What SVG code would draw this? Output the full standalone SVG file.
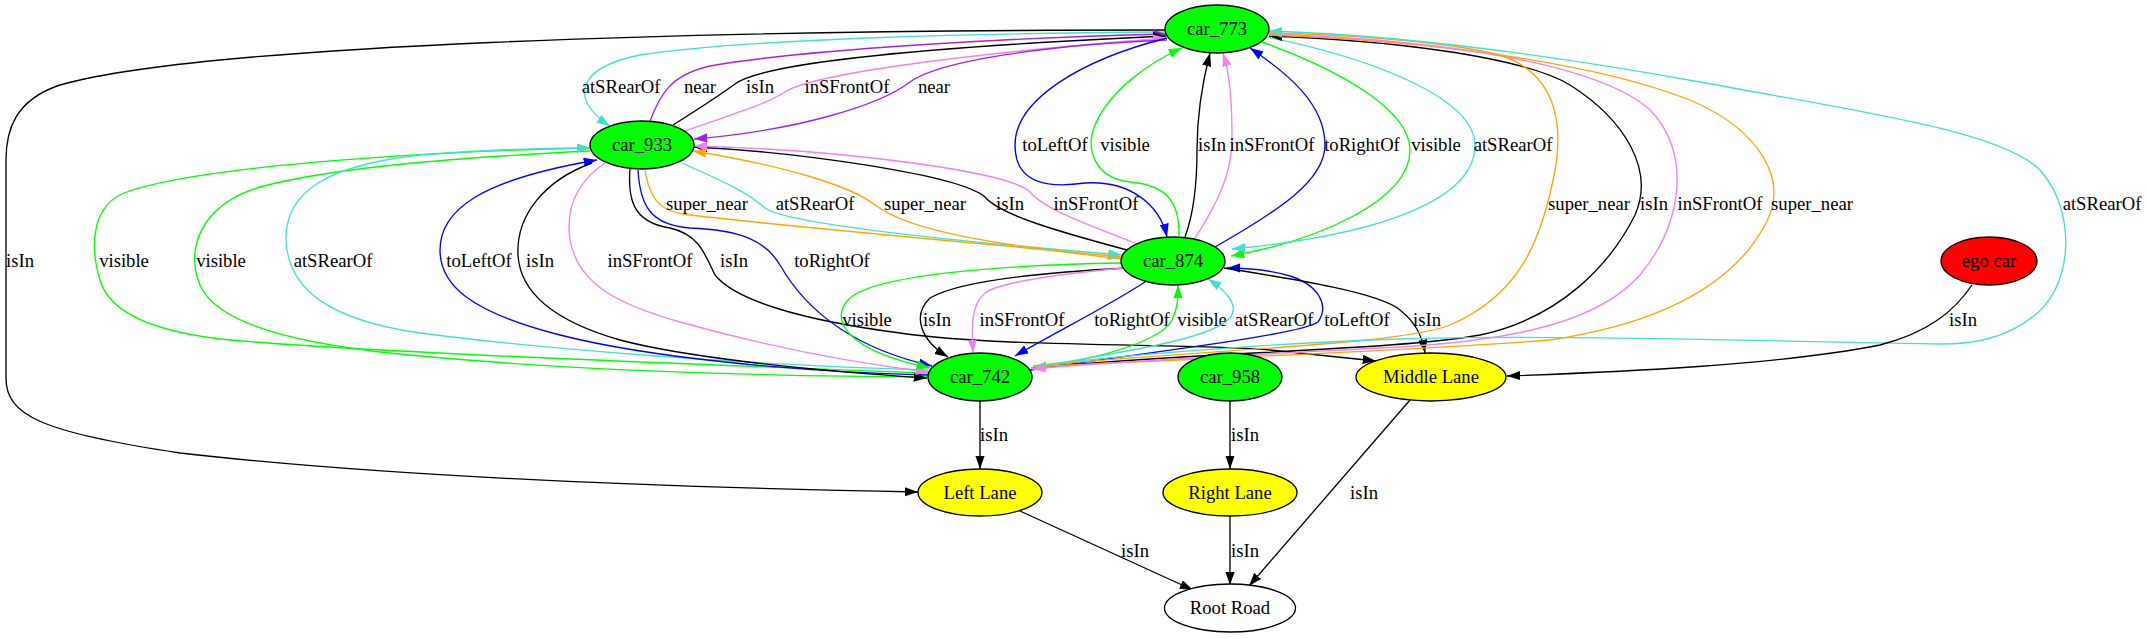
<svg xmlns="http://www.w3.org/2000/svg" width="2147" height="639" viewBox="0 0 2147 639">
<style>
.e{fill:none;stroke-width:1.33}
.k{stroke:#000;marker-end:url(#ak)}
.p{stroke:#a020f0;marker-end:url(#ap)}
.v{stroke:#ee82ee;marker-end:url(#av)}
.o{stroke:#ffa500;marker-end:url(#ao)}
.t{stroke:#40e0d0;marker-end:url(#at)}
.g{stroke:#00ff00;marker-end:url(#ag)}
.b{stroke:#0000ff;marker-end:url(#ab)}
.l{font-family:"Liberation Serif","Times New Roman",serif;font-size:18.67px;text-anchor:middle;fill:#000}
.n{stroke:#000;stroke-width:1.33}
</style>
<defs>
<marker id="ak" viewBox="0 0 14 10" refX="13.3" refY="4.65" markerWidth="14" markerHeight="10" markerUnits="userSpaceOnUse" orient="auto"><path d="M0,0 L13.3,4.65 L0,9.3 z" fill="#000"/></marker>
<marker id="ap" viewBox="0 0 14 10" refX="13.3" refY="4.65" markerWidth="14" markerHeight="10" markerUnits="userSpaceOnUse" orient="auto"><path d="M0,0 L13.3,4.65 L0,9.3 z" fill="#a020f0"/></marker>
<marker id="av" viewBox="0 0 14 10" refX="13.3" refY="4.65" markerWidth="14" markerHeight="10" markerUnits="userSpaceOnUse" orient="auto"><path d="M0,0 L13.3,4.65 L0,9.3 z" fill="#ee82ee"/></marker>
<marker id="ao" viewBox="0 0 14 10" refX="13.3" refY="4.65" markerWidth="14" markerHeight="10" markerUnits="userSpaceOnUse" orient="auto"><path d="M0,0 L13.3,4.65 L0,9.3 z" fill="#ffa500"/></marker>
<marker id="at" viewBox="0 0 14 10" refX="13.3" refY="4.65" markerWidth="14" markerHeight="10" markerUnits="userSpaceOnUse" orient="auto"><path d="M0,0 L13.3,4.65 L0,9.3 z" fill="#40e0d0"/></marker>
<marker id="ag" viewBox="0 0 14 10" refX="13.3" refY="4.65" markerWidth="14" markerHeight="10" markerUnits="userSpaceOnUse" orient="auto"><path d="M0,0 L13.3,4.65 L0,9.3 z" fill="#00ff00"/></marker>
<marker id="ab" viewBox="0 0 14 10" refX="13.3" refY="4.65" markerWidth="14" markerHeight="10" markerUnits="userSpaceOnUse" orient="auto"><path d="M0,0 L13.3,4.65 L0,9.3 z" fill="#0000ff"/></marker>
</defs>
<rect width="2147" height="639" fill="#fff"/>
<g id="connectors">
<!-- car_773 -> Left Lane -->
<path class="e k" d="M1165,30 C700,30 200,45 60,85 C15,100 6,130 6,160 L6,378 C6,415 40,432 180,453 C400,478 700,488 918,492"/>
<text class="l" x="20" y="266.5">isIn</text>
<!-- top group -->
<path class="e t" d="M1166,32 C1000,33 750,38 640,55 C575,68 570,100 610,126"/>
<text class="l" x="621" y="92.5">atSRearOf</text>
<path class="e p" d="M650,121 C660,95 670,75 710,66 C800,50 1000,38 1166,34"/>
<text class="l" x="700" y="92.5">near</text>
<path class="e k" d="M673,125 C700,108 720,95 735,84 C760,65 900,48 1166,36"/>
<text class="l" x="760" y="92.5">isIn</text>
<path class="e v" d="M685,131 C730,115 765,105 785,92 C810,75 950,55 1166,38"/>
<text class="l" x="847" y="92.5">inSFrontOf</text>
<path class="e p" d="M1167,40 C1050,45 940,60 910,82 C880,105 800,130 694,139"/>
<text class="l" x="934" y="92.5">near</text>
<!-- middle column -->
<path class="e b" d="M1167,38 C1080,60 1015,100 1015,145 C1015,185 1050,188 1085,183 C1130,180 1160,205 1167,237"/>
<text class="l" x="1055" y="150.5">toLeftOf</text>
<path class="e g" d="M1179,237 C1180,200 1165,185 1130,182 C1095,178 1085,150 1095,125 C1110,90 1150,62 1182,48"/>
<text class="l" x="1125" y="150.5">visible</text>
<path class="e k" d="M1185,237 C1195,210 1197,180 1197,150 C1197,110 1203,80 1210,53"/>
<text class="l" x="1212" y="150.5">isIn</text>
<path class="e v" d="M1195,238 C1220,200 1232,170 1232,140 C1232,100 1230,75 1223,53"/>
<text class="l" x="1272" y="150.5">inSFrontOf</text>
<path class="e b" d="M1215,247 C1280,210 1325,180 1325,145 C1325,105 1290,75 1250,48"/>
<text class="l" x="1362" y="150.5">toRightOf</text>
<path class="e g" d="M1262,42 C1340,70 1410,110 1410,150 C1410,200 1320,240 1231,256"/>
<text class="l" x="1436" y="150.5">visible</text>
<path class="e t" d="M1267,37 C1380,60 1475,100 1475,145 C1475,200 1380,235 1232,249"/>
<text class="l" x="1513" y="150.5">atSRearOf</text>
<!-- middle group -->
<path class="e o" d="M645,170 C650,200 660,212 690,215 C800,228 1000,245 1121,257"/>
<text class="l" x="707" y="209.5">super_near</text>
<path class="e t" d="M682,163 C715,178 745,190 765,208 C790,226 1000,245 1122,255"/>
<text class="l" x="815" y="209.5">atSRearOf</text>
<path class="e k" d="M1127,250 C1060,232 1000,215 985,197 C960,175 800,152 694,147"/>
<text class="l" x="1010" y="209.5">isIn</text>
<path class="e v" d="M1135,243 C1090,225 1045,210 1030,192 C1010,172 850,150 694,146"/>
<text class="l" x="1096" y="209.5">inSFrontOf</text>
<path class="e o" d="M1122,259 C1000,245 910,232 875,205 C850,185 780,165 693,151"/>
<text class="l" x="925" y="209.5">super_near</text>
<!-- left group -->
<path class="e g" d="M928,373 C800,368 400,355 230,340 C160,333 110,315 100,280 C88,240 95,205 124,193 C190,168 400,152 590,148"/>
<text class="l" x="124" y="266.5">visible</text>
<path class="e g" d="M590,151 C450,158 330,168 260,187 C200,205 185,250 200,285 C215,320 280,340 380,352 C550,370 750,376 928,377"/>
<text class="l" x="221" y="266.5">visible</text>
<path class="e t" d="M928,370 C750,365 550,350 420,333 C330,320 288,290 286,240 C285,190 330,165 420,155 C480,150 540,148 590,148"/>
<text class="l" x="333" y="266.5">atSRearOf</text>
<path class="e b" d="M928,375 C800,372 650,358 560,335 C470,312 440,285 440,250 C440,210 480,180 597,160"/>
<text class="l" x="479" y="266.5">toLeftOf</text>
<path class="e k" d="M592,163 C545,180 516,215 518,255 C520,290 550,320 620,340 C680,356 800,370 927,378"/>
<text class="l" x="540" y="266.5">isIn</text>
<path class="e v" d="M605,163 C580,180 565,205 570,240 C578,285 620,305 680,322 C780,350 870,365 929,372"/>
<text class="l" x="650" y="266.5">inSFrontOf</text>
<path class="e k" d="M630,168 C628,195 630,222 670,228 C700,235 705,255 715,275 C735,300 800,320 900,333 C1000,348 1200,343 1270,350 C1320,355 1350,358 1376,361"/>
<text class="l" x="734" y="266.5">isIn</text>
<path class="e b" d="M638,170 C640,205 650,225 690,228 C740,230 765,240 780,265 C800,300 840,345 932,366"/>
<text class="l" x="832" y="266.5">toRightOf</text>
<!-- lower group -->
<path class="e g" d="M1122,263 C1000,265 870,275 848,300 C830,320 845,350 930,368"/>
<text class="l" x="867" y="325.5">visible</text>
<path class="e k" d="M1127,268 C1050,272 960,280 930,298 C912,315 920,340 948,357"/>
<text class="l" x="937" y="325.5">isIn</text>
<path class="e v" d="M1123,268 C1060,274 1000,282 985,293 C970,305 972,330 973,353"/>
<text class="l" x="1022" y="325.5">inSFrontOf</text>
<path class="e b" d="M1145,282 C1110,305 1060,330 1015,356"/>
<text class="l" x="1132" y="325.5">toRightOf</text>
<path class="e g" d="M1030,370 C1100,358 1160,342 1172,320 C1178,308 1178,298 1178,285"/>
<text class="l" x="1202" y="325.5">visible</text>
<path class="e t" d="M1031,368 C1120,352 1210,340 1230,318 C1240,305 1225,290 1208,279"/>
<text class="l" x="1274" y="325.5">atSRearOf</text>
<path class="e b" d="M1031,370 C1150,352 1300,335 1318,322 C1330,305 1318,285 1290,276 C1270,270 1250,268 1227,268"/>
<text class="l" x="1357" y="325.5">toLeftOf</text>
<path class="e k" d="M1224,268 C1300,280 1380,293 1400,310 C1415,322 1422,335 1425,353"/>
<text class="l" x="1427" y="325.5">isIn</text>
<!-- right group -->
<path class="e k" d="M1033,368 C1200,352 1400,350 1480,335 C1560,318 1610,265 1635,215 C1655,170 1625,120 1570,85 C1520,55 1380,40 1269,36"/>
<text class="l" x="1654" y="209.5">isIn</text>
<path class="e o" d="M1269,35 C1450,42 1600,65 1690,100 C1760,130 1790,180 1765,225 C1730,290 1650,325 1550,340 C1400,352 1150,360 1033,367"/>
<text class="l" x="1812" y="209.5">super_near</text>
<path class="e v" d="M1269,34 C1450,40 1600,65 1650,110 C1690,150 1685,220 1640,275 C1600,320 1520,340 1400,347 C1250,355 1100,362 1032,369"/>
<text class="l" x="1720" y="209.5">inSFrontOf</text>
<path class="e o" d="M1033,366 C1200,350 1400,345 1450,325 C1520,295 1540,240 1552,185 C1565,130 1560,75 1500,55 C1440,40 1330,34 1269,33"/>
<text class="l" x="1589" y="209.5">super_near</text>
<path class="e t" d="M1033,366 C1150,352 1300,342 1400,339 C1550,334 1800,342 1940,344 C2000,345 2040,320 2055,290 C2072,255 2070,205 2040,170 C2000,130 1850,110 1700,82 C1550,55 1400,35 1269,31"/>
<text class="l" x="2102" y="209.5">atSRearOf</text>
<!-- others -->
<path class="e k" d="M1972,285 C1955,310 1930,332 1880,345 C1780,365 1620,372 1507,376"/>
<text class="l" x="1963" y="325.5">isIn</text>
<path class="e k" d="M980,401 L980,469"/>
<text class="l" x="994" y="440.5">isIn</text>
<path class="e k" d="M1230,401 L1230,469"/>
<text class="l" x="1245" y="440.5">isIn</text>
<path class="e k" d="M1020,511 L1193,590"/>
<text class="l" x="1135" y="556.5">isIn</text>
<path class="e k" d="M1230,516 L1230,585"/>
<text class="l" x="1245" y="556.5">isIn</text>
<path class="e k" d="M1410,400 L1249,586"/>
<text class="l" x="1364" y="498.5">isIn</text>
</g>
<g id="car_773"><ellipse class="n" cx="1217" cy="29" rx="52" ry="24" fill="#00ff00"/><text class="l" x="1217" y="35">car_773</text></g>
<g id="car_933"><ellipse class="n" cx="642" cy="145" rx="52" ry="24" fill="#00ff00"/><text class="l" x="642" y="151">car_933</text></g>
<g id="car_874"><ellipse class="n" cx="1173" cy="261" rx="52" ry="24" fill="#00ff00"/><text class="l" x="1173" y="267">car_874</text></g>
<g id="car_742"><ellipse class="n" cx="980" cy="377" rx="52" ry="24" fill="#00ff00"/><text class="l" x="980" y="383">car_742</text></g>
<g id="car_958"><ellipse class="n" cx="1230" cy="377" rx="52" ry="24" fill="#00ff00"/><text class="l" x="1230" y="383">car_958</text></g>
<g id="middle_lane"><ellipse class="n" cx="1431" cy="377" rx="75" ry="24" fill="#ffff00"/><text class="l" x="1431" y="383">Middle Lane</text></g>
<g id="ego_car"><ellipse class="n" cx="1989" cy="261" rx="48" ry="24" fill="#ff0000"/><text class="l" x="1989" y="267">ego car</text></g>
<g id="left_lane"><ellipse class="n" cx="980" cy="492.5" rx="62" ry="23.5" fill="#ffff00"/><text class="l" x="980" y="498.5">Left Lane</text></g>
<g id="right_lane"><ellipse class="n" cx="1230" cy="492.5" rx="67" ry="23.5" fill="#ffff00"/><text class="l" x="1230" y="498.5">Right Lane</text></g>
<g id="root_road"><ellipse class="n" cx="1230" cy="608" rx="65.5" ry="24" fill="#ffffff"/><text class="l" x="1230" y="614">Root Road</text></g>
</svg>
